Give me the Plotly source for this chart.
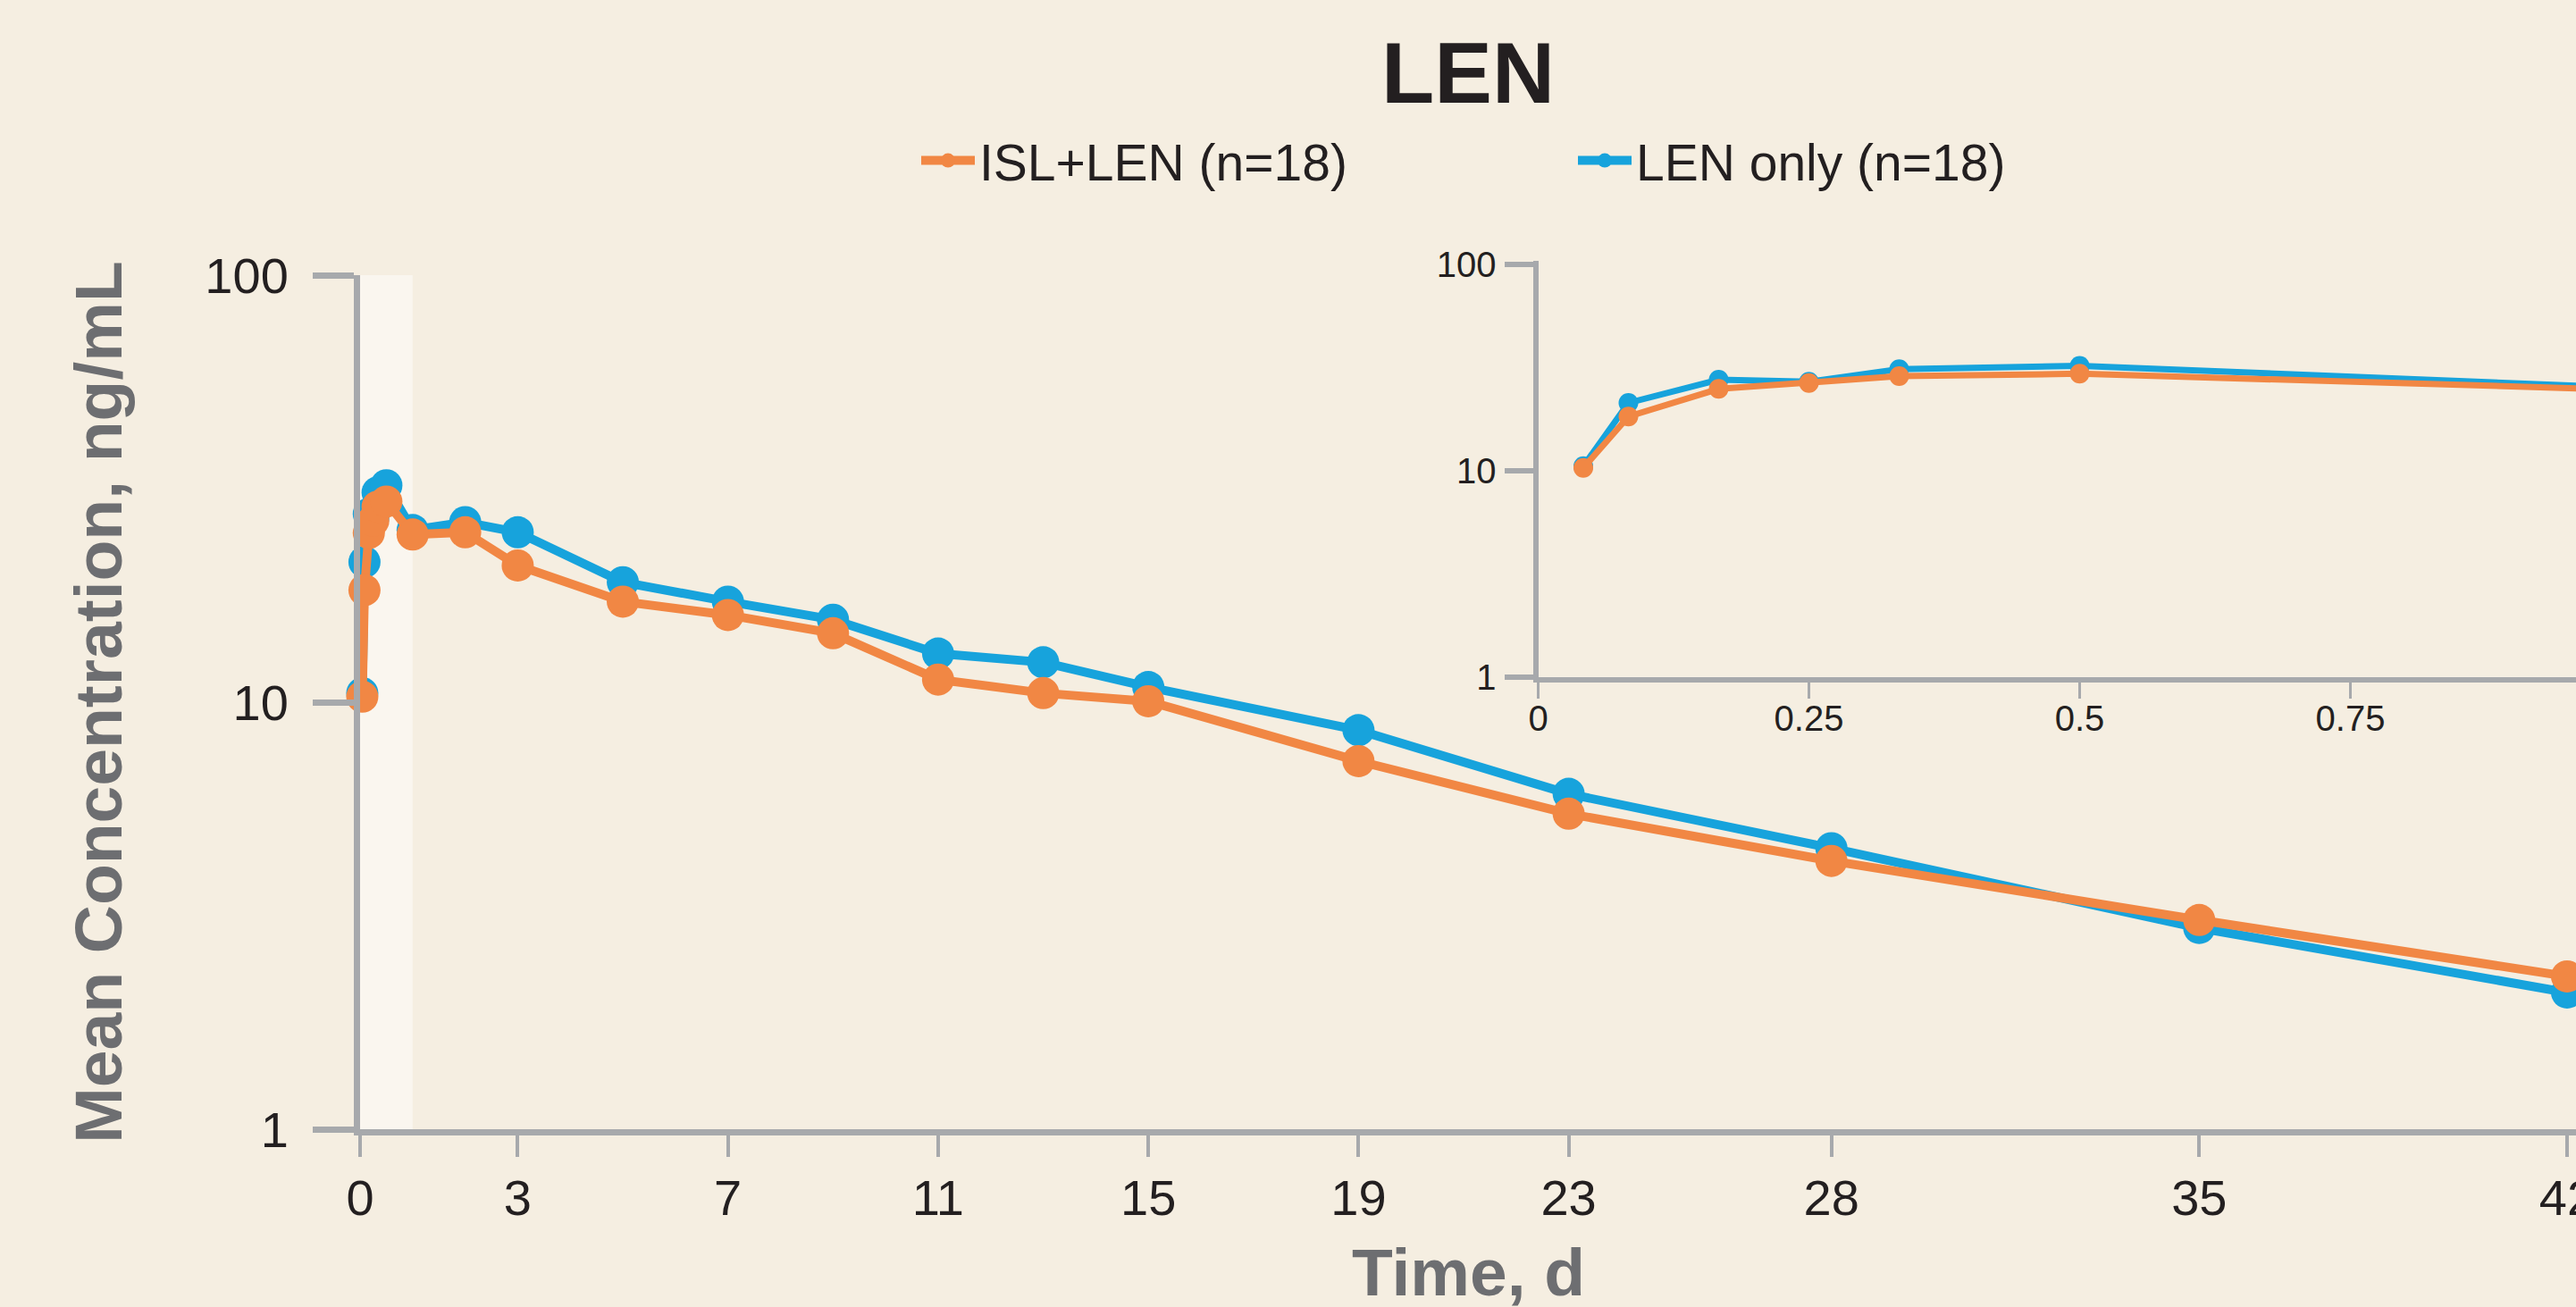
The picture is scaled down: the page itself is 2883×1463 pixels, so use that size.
import plotly.graph_objects as go

# ---------------- data ----------------
time_d = [1/24, 2/24, 4/24, 6/24, 8/24, 12/24, 1, 2, 3, 5, 7, 9, 11, 13, 15, 19, 23, 28, 35, 42]
isl_len = [10.3, 18.3, 24.9, 26.6, 28.7, 29.5, 24.7, 25.0, 20.9, 17.2, 16.0, 14.5, 11.3, 10.5,
           10.05, 7.28, 5.48, 4.25, 3.09, 2.28]
len_only = [10.5, 21.3, 27.6, 27.0, 31.0, 32.2, 25.3, 26.4, 25.0, 19.1, 17.2, 15.6, 13.0, 12.4,
            10.85, 8.6, 6.1, 4.55, 2.96, 2.09]
n_inset = 7  # points shown in the first-day inset (through day 1)

series_names = ["ISL+LEN (n=18)", "LEN only (n=18)"]
x_ticks = [0, 3, 7, 11, 15, 19, 23, 28, 35, 42]
inset_x_ticks = [0, 0.25, 0.5, 0.75]
inset_x_labels = ["0", "0.25", "0.5", "0.75"]
y_ticks = [1, 10, 100]
y_labels = ["1", "10", "100"]

# ---------------- style ----------------
ORANGE = "#f18744"
BLUE = "#17a3dc"
BG = "#f5eee1"
LIGHT = "#faf6ef"
AXIS = "#a7a9ac"
INK = "#231f20"
GREY_TXT = "#6d6e71"
FONT = "Liberation Sans, Arial, sans-serif"

W, H = 2883, 1463
MAIN_LW, INSET_LW = 7, 6
L, R, T = 403, 0, 292
plot_bottom = 1264
B = H - plot_bottom
plot_w = W - L - R
plot_h = plot_bottom - T

# pixel geometry of the axes (page coordinates)
px_per_day = 2470 / 42          # main x scale
main_y100 = 308                 # where y=100 sits
inset_left_px = 1721.5          # inset x=0
inset_px_per_day = 1212
inset_bottom_px = 757.5         # inset y=1
inset_y100 = 296
inset_px_decade = (inset_bottom_px - inset_y100) / 2

x_end = plot_w / px_per_day
main_top = (plot_bottom - main_y100) / plot_h
x2_end = (W - inset_left_px) / inset_px_per_day
y2_end = 2 + (inset_y100 - T) / inset_px_decade
inset_left = (inset_left_px - L) / plot_w
inset_bottom = (plot_bottom - inset_bottom_px) / plot_h

fig = go.Figure()

# main traces (blue first so orange sits on top)
fig.add_trace(go.Scatter(
    x=time_d, y=len_only, name=series_names[1], mode="lines+markers",
    line=dict(color=BLUE, width=10), marker=dict(color=BLUE, size=36),
    legendrank=2, cliponaxis=False, xaxis="x", yaxis="y"))
fig.add_trace(go.Scatter(
    x=time_d, y=isl_len, name=series_names[0], mode="lines+markers",
    line=dict(color=ORANGE, width=10), marker=dict(color=ORANGE, size=36),
    legendrank=1, cliponaxis=False, xaxis="x", yaxis="y"))

# inset traces
fig.add_trace(go.Scatter(
    x=time_d[:n_inset], y=len_only[:n_inset], mode="lines+markers", showlegend=False,
    line=dict(color=BLUE, width=7), marker=dict(color=BLUE, size=22),
    xaxis="x2", yaxis="y2"))
fig.add_trace(go.Scatter(
    x=time_d[:n_inset], y=isl_len[:n_inset], mode="lines+markers", showlegend=False,
    line=dict(color=ORANGE, width=7), marker=dict(color=ORANGE, size=22),
    xaxis="x2", yaxis="y2"))

fig.update_layout(
    width=W, height=H,
    margin=dict(l=L, r=R, t=T, b=B, autoexpand=False),
    paper_bgcolor=BG, plot_bgcolor=BG,
    font=dict(family=FONT, color=INK),
    title=dict(text="LEN", x=0.5, xref="paper", xanchor="center",
               y=1 - 81 / H, yref="container", yanchor="middle",
               font=dict(family=FONT, size=97, color=INK, weight="bold")),
    legend=dict(orientation="h", x=(1761 - L) / plot_w, xanchor="center",
                y=1 - 180 / H, yref="container", yanchor="middle",
                font=dict(family=FONT, size=57, color=INK),
                bgcolor="rgba(0,0,0,0)", entrywidth=660, itemwidth=60),
    hovermode=False,
    xaxis=dict(domain=[0, 1], range=[0, x_end],
               tickmode="array", tickvals=x_ticks, ticktext=[str(v) for v in x_ticks],
               showgrid=False, zeroline=False,
               showline=True, linecolor=AXIS, linewidth=MAIN_LW,
               ticks="outside", ticklen=24, tickwidth=3.5, tickcolor=AXIS,
               tickfont=dict(family=FONT, size=56, color=INK), ticklabelstandoff=-2,
               ticklabeloverflow="allow",
               anchor="y", automargin=False),
    yaxis=dict(domain=[0, main_top], type="log", range=[0, 2],
               tickmode="array", tickvals=y_ticks, ticktext=y_labels,
               showgrid=False, zeroline=False,
               showline=True, linecolor=AXIS, linewidth=MAIN_LW,
               ticks="outside", ticklen=46, tickwidth=7, tickcolor=AXIS,
               tickfont=dict(family=FONT, size=56, color=INK), ticklabelstandoff=16,
               ticklabeloverflow="allow",
               title=dict(text="Mean Concentration, ng/mL", standoff=71,
                          font=dict(family=FONT, size=75, color=GREY_TXT, weight="bold")),
               anchor="x", automargin=False),
    xaxis2=dict(domain=[inset_left, 1], range=[0, x2_end],
                tickmode="array", tickvals=inset_x_ticks, ticktext=inset_x_labels,
                showgrid=False, zeroline=False,
                showline=True, linecolor=AXIS, linewidth=INSET_LW,
                ticks="outside", ticklen=18, tickwidth=3, tickcolor=AXIS,
                tickfont=dict(family=FONT, size=40, color=INK), ticklabelstandoff=-12,
                anchor="y2", automargin=False),
    yaxis2=dict(domain=[inset_bottom, 1], type="log", range=[0, y2_end],
                tickmode="array", tickvals=y_ticks, ticktext=y_labels,
                showgrid=False, zeroline=False,
                showline=True, linecolor=AXIS, linewidth=INSET_LW,
                ticks="outside", ticklen=32, tickwidth=6, tickcolor=AXIS,
                tickfont=dict(family=FONT, size=40, color=INK), ticklabelstandoff=1,
                anchor="x2", automargin=False),
    shapes=[
        dict(type="rect", xref="x", x0=0, x1=1, yref="y domain", y0=0, y1=1,
             fillcolor=LIGHT, line=dict(width=0), layer="below"),
        dict(type="rect", xref="x2 domain", x0=0, x1=1, yref="y2 domain", y0=0, y1=1,
             fillcolor=LIGHT, line=dict(width=0), layer="below"),
    ],
    annotations=[
        # x-axis title (annotation so it can sit close to the bottom edge)
        dict(text="Time, d", xref="paper", x=0.5, xanchor="center",
             yref="paper", y=(plot_bottom - 1380) / plot_h, yanchor="top",
             showarrow=False,
             font=dict(family=FONT, size=75, color=GREY_TXT, weight="bold")),
    ],
)

fig.write_html(
    "out.html",
    config={"displayModeBar": False},
    post_script="document.body.style.margin='0';document.body.style.overflow='hidden';",
)
